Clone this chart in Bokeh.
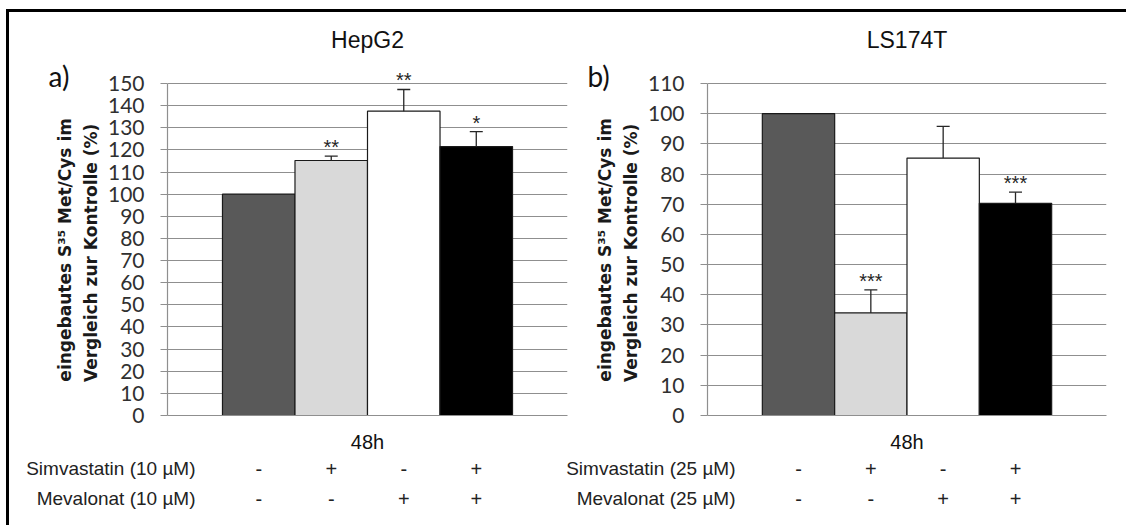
from bokeh.plotting import figure
from bokeh.models import (ColumnDataSource, FactorRange, Range1d, FixedTicker,
                          Whisker, TeeHead, LabelSet, Label, CategoricalScale)
from bokeh.layouts import row, column
from bokeh.core.properties import value
from bokeh.embed import file_html
from bokeh.resources import INLINE

# ---------------- data ----------------
conditions = ["Kontrolle", "Simvastatin", "Mevalonat", "Simvastatin + Mevalonat"]
bar_colors = ["#595959", "#d9d9d9", "#ffffff", "#000000"]
simva_signs = ["-", "+", "-", "+"]
meva_signs = ["-", "-", "+", "+"]
time_label = "48h"
y_label = "eingebautes S³⁵ Met/Cys im   \nVergleich  zur Kontrolle (%)   "

hep_title = "HepG2"
hep_tag = "a)"
hep_values = [100, 115.2, 137.5, 121.5]
hep_errors = [0, 2.0, 9.8, 6.8]
hep_stars = ["", "**", "**", "*"]
hep_ticks = [0, 10, 20, 30, 40, 50, 60, 70, 80, 90, 100, 110, 120, 130, 140, 150]
hep_simva_label = "Simvastatin (10 µM)"
hep_meva_label = "Mevalonat (10 µM)"

ls_title = "LS174T"
ls_tag = "b)"
ls_values = [100, 34.0, 85.3, 70.3]
ls_errors = [0, 7.6, 10.5, 3.7]
ls_stars = ["", "***", "", "***"]
ls_ticks = [0, 10, 20, 30, 40, 50, 60, 70, 80, 90, 100, 110]
ls_simva_label = "Simvastatin (25 µM)"
ls_meva_label = "Mevalonat (25 µM)"

# ---------------- layout constants ----------------
GRID = "#8f8f8f"
PAD = 0.379                 # category range padding
TOP = 54                    # space above the frame
AXIS_H = 332                # pixel height of 0..max tick
EXTRA_H = 17                # room above the top tick for the asterisks
BOTTOM = 40                 # space under the frame for the category label
CHART_H = TOP + AXIS_H + EXTRA_H + BOTTOM
TABLE_H = 70
ROW_PITCH = 30
ROW_TOP = 13


def make_chart(title, tag, values, errors, stars, ticks, width, left_b, right_b):
    ymax = ticks[-1] * (AXIS_H + EXTRA_H) / AXIS_H
    p = figure(width=width, height=CHART_H,
               x_range=FactorRange(*conditions, range_padding=PAD),
               y_range=Range1d(0, ymax),
               output_backend="svg", toolbar_location=None,
               min_border_left=left_b, min_border_right=right_b,
               min_border_top=TOP, min_border_bottom=BOTTOM)
    p.outline_line_color = None
    p.background_fill_color = "white"
    p.border_fill_color = "white"
    p.xgrid.visible = False

    ticker = FixedTicker(ticks=ticks)
    yax = p.yaxis[0]
    yax.ticker = ticker
    yax.bounds = (ticks[0], ticks[-1])
    yax.axis_line_color = GRID
    yax.axis_line_width = 1.2
    yax.major_tick_line_color = GRID
    yax.major_tick_line_width = 1.2
    yax.major_tick_out = 7
    yax.major_tick_in = 0
    yax.minor_tick_line_color = None
    yax.major_label_text_font = "Lato"
    yax.major_label_text_font_size = "21px"
    yax.major_label_text_color = "#303030"
    yax.major_label_standoff = 16
    yax.axis_label = y_label
    yax.axis_label_text_font = "DejaVu Sans"
    yax.axis_label_text_font_style = "bold"
    yax.axis_label_text_font_size = "17px"
    yax.axis_label_text_color = "#1a1a1a"
    yax.axis_label_text_line_height = 1.3
    yax.axis_label_standoff = 4

    p.ygrid.ticker = ticker
    p.ygrid.grid_line_color = GRID
    p.ygrid.grid_line_width = 1.2

    # time category ("48h") axis under the frame
    p.extra_x_ranges = {"time": FactorRange(time_label)}
    p.extra_x_scales = {"time": CategoricalScale()}
    xax = p.xaxis[0]
    xax.x_range_name = "time"
    xax.axis_line_color = GRID
    xax.axis_line_width = 1.2
    xax.major_tick_line_color = None
    xax.minor_tick_line_color = None
    xax.major_label_text_font = "Liberation Sans"
    xax.major_label_text_font_size = "20px"
    xax.major_label_text_color = "#111111"
    xax.major_label_standoff = 9

    src = ColumnDataSource(dict(x=conditions, top=values, color=bar_colors))
    p.vbar(x="x", top="top", width=1.0, bottom=0, fill_color="color",
           line_color="#1a1a1a", line_width=1.2, source=src)

    idx = [i for i in range(len(values)) if errors[i] > 0]
    wsrc = ColumnDataSource(dict(
        x=[conditions[i] for i in idx],
        lower=[values[i] for i in idx],
        upper=[values[i] + errors[i] for i in idx],
        stars=[stars[i] for i in idx],
    ))
    p.add_layout(Whisker(base="x", lower="lower", upper="upper", source=wsrc,
                         line_color="#262626", line_width=1.3,
                         upper_head=TeeHead(size=13, line_color="#262626", line_width=1.3),
                         lower_head=None, level="glyph"))
    p.add_layout(LabelSet(x="x", y="upper", text="stars", source=wsrc,
                          text_align="center", text_baseline="alphabetic", y_offset=2,
                          text_font=value("Liberation Sans"), text_font_size="20px",
                          text_color="#262626"))

    p.title.text = title
    p.title.align = "center"
    p.title.vertical_align = "middle"
    p.title.text_font = "Liberation Sans"
    p.title.text_font_size = "23px"
    p.title.text_font_style = "normal"
    p.title.text_color = "#111111"
    p.title.standoff = 26

    p.add_layout(Label(x=18, y=AXIS_H + 8, x_units="screen", y_units="screen",
                       text=tag, text_align="left", text_baseline="middle",
                       text_font="Lato", text_font_size="28px", text_color="#111111"), "left")
    return p


def make_table(simva_label, meva_label, width, left_b, frame_w):
    span = len(conditions) * (1 + PAD)
    unit = frame_w / span
    x0 = -PAD * len(conditions) / 2 - left_b / unit
    y_top = -ROW_TOP / ROW_PITCH
    t = figure(width=width, height=TABLE_H,
               x_range=Range1d(x0, x0 + width / unit),
               y_range=Range1d(y_top + TABLE_H / ROW_PITCH, y_top),
               output_backend="svg", toolbar_location=None,
               x_axis_location=None, y_axis_location=None,
               min_border=0, min_border_left=0, min_border_right=0,
               min_border_top=0, min_border_bottom=0)
    t.outline_line_color = None
    t.xgrid.visible = False
    t.ygrid.visible = False
    t.background_fill_color = "white"
    t.border_fill_color = "white"

    cx = [i + 0.5 for i in range(len(conditions))]
    sign_src = ColumnDataSource(dict(x=cx + cx, y=[0] * 4 + [1] * 4,
                                     t=simva_signs + meva_signs))
    t.text(x="x", y="y", text="t", source=sign_src, text_align="center",
           text_baseline="middle", text_font=value("Liberation Sans"),
           text_font_size="20px", text_color="#222222")
    lab_x = -PAD * len(conditions) / 2 + 28 / unit
    lab_src = ColumnDataSource(dict(x=[lab_x, lab_x], y=[0, 1],
                                    t=[simva_label, meva_label]))
    t.text(x="x", y="y", text="t", source=lab_src, text_align="right",
           text_baseline="middle", text_font=value("Liberation Sans"),
           text_font_size="19px", text_color="#222222")
    return t


W1, LB1, RB1 = 559, 158, 1
W2, LB2, RB2 = 558, 139, 20
SHIFT = 6   # table boundary moved left so the right row labels are not cut

c1 = make_chart(hep_title, hep_tag, hep_values, hep_errors, hep_stars, hep_ticks, W1, LB1, RB1)
c2 = make_chart(ls_title, ls_tag, ls_values, ls_errors, ls_stars, ls_ticks, W2, LB2, RB2)
t1 = make_table(hep_simva_label, hep_meva_label, W1 - SHIFT, LB1, W1 - LB1 - RB1)
t2 = make_table(ls_simva_label, ls_meva_label, W2 + SHIFT, LB2 + SHIFT, W2 - LB2 - RB2)

layout = column(row(c1, c2), row(t1, t2), margin=(9, 0, 0, 6),
                styles={"border-top": "3px solid black",
                        "border-left": "3px solid black",
                        "background-color": "white"})

open("out.html", "w").write(file_html(layout, INLINE))
